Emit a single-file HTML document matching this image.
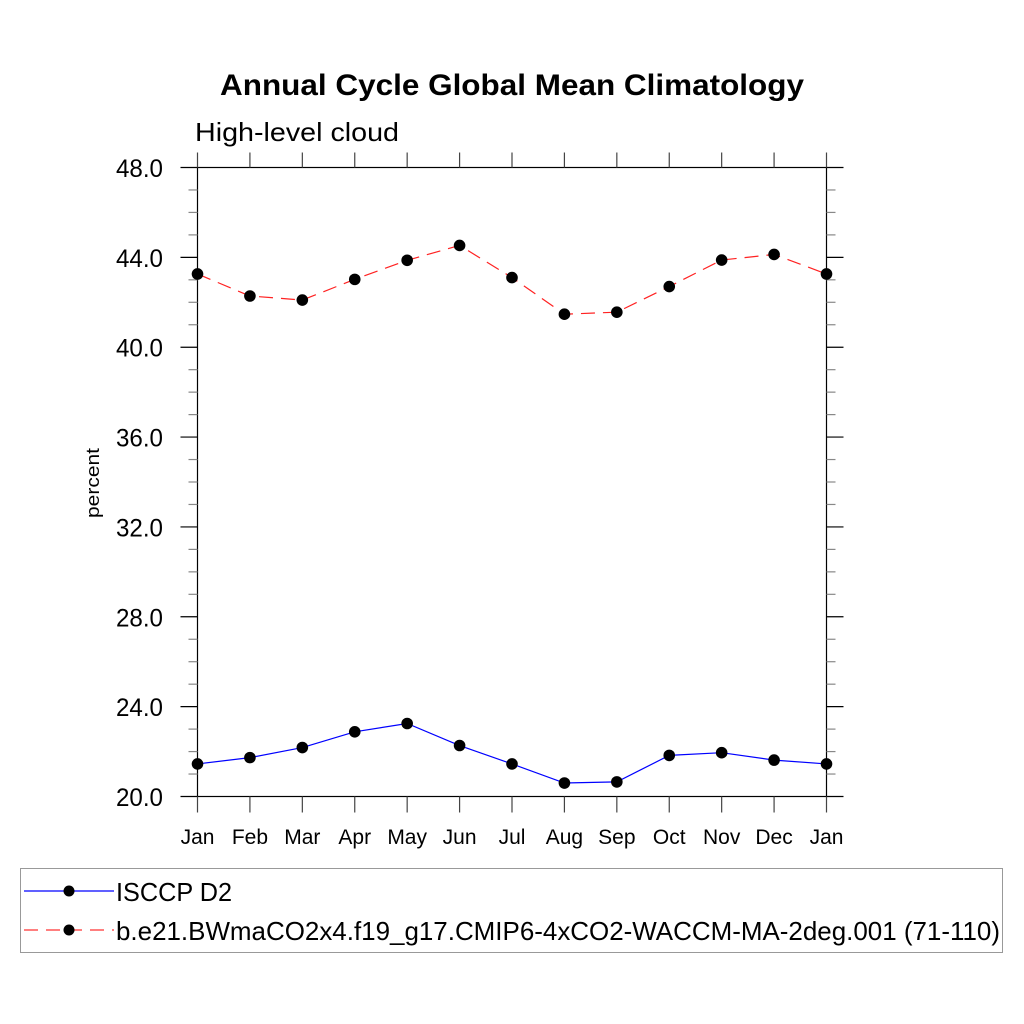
<!DOCTYPE html>
<html><head><meta charset="utf-8"><style>
html,body{margin:0;padding:0;background:#fff;}
svg{display:block;font-family:"Liberation Sans",sans-serif;}
</style></head><body>
<svg id="chart" width="1024" height="1024" viewBox="0 0 1024 1024">
<text x="220" y="95" font-size="30" font-weight="bold" textLength="584" lengthAdjust="spacingAndGlyphs">Annual Cycle Global Mean Climatology</text>
<text x="195" y="141" font-size="26" textLength="204" lengthAdjust="spacingAndGlyphs">High-level cloud</text>
<text transform="translate(99,483) rotate(-90)" text-anchor="middle" font-size="18" textLength="70" lengthAdjust="spacingAndGlyphs">percent</text>
<g id="axes"></g>
<g id="series"></g>
<g>
<rect x="20.5" y="868.5" width="982" height="84" fill="#fff" stroke="#999" stroke-width="1"/>
<g>
<line x1="24" y1="891" x2="114" y2="891" stroke="#00f" stroke-width="1.2"/>
<circle cx="69" cy="891" r="5.5" fill="#000"/>
<text x="116" y="901" font-size="26" textLength="116" lengthAdjust="spacingAndGlyphs">ISCCP D2</text>
</g>
<g>
<line x1="24" y1="930" x2="114" y2="930" stroke="#f33" stroke-width="1.2" stroke-dasharray="14,8"/>
<circle cx="69" cy="930" r="5.5" fill="#000"/>
<text x="116" y="940" font-size="26" textLength="884" lengthAdjust="spacingAndGlyphs">b.e21.BWmaCO2x4.f19_g17.CMIP6-4xCO2-WACCM-MA-2deg.001 (71-110)</text>
</g>
</g>
</svg>
<script>
const months = ["Jan","Feb","Mar","Apr","May","Jun","Jul","Aug","Sep","Oct","Nov","Dec","Jan"];
const isccpValues = [21.45,21.73,22.18,22.88,23.25,22.27,21.45,20.6,20.65,21.83,21.95,21.62,21.45];
const waccmValues = [43.26,42.28,42.1,43.02,43.87,44.53,43.1,41.47,41.56,42.7,43.88,44.13,43.26];
const yTicks = [20,24,28,32,36,40,44,48];
const yTickLabels = ["20.0","24.0","28.0","32.0","36.0","40.0","44.0","48.0"];
const NS="http://www.w3.org/2000/svg";
const X0=197.5,X1=826.5,Y0=796.5,Y1=167.5,YMIN=20,YMAX=48;
function xs(i){return X0+(X1-X0)*i/(months.length-1);}
function ys(v){return Y0-(Y0-Y1)*(v-YMIN)/(YMAX-YMIN);}
function mk(tag,attrs,parent){const e=document.createElementNS(NS,tag);for(const k in attrs)e.setAttribute(k,attrs[k]);parent.appendChild(e);return e;}
const axes=document.getElementById('axes');
const frame=mk('rect',{x:X0,y:Y1,width:X1-X0,height:Y0-Y1,fill:'none',stroke:'#000','stroke-width':1.2},axes);


for(let v=YMIN;v<=YMAX;v++){
  const major=(v%4===0);const y=ys(v);const len=major?17:9;
  const c=major?'#000':'#888';
  const t1=mk('line',{x1:X0-len,y1:y,x2:X0,y2:y,stroke:c,'stroke-width':1.2},axes);
  
  
  const t2=mk('line',{x1:X1,y1:y,x2:X1+len,y2:y,stroke:c,'stroke-width':1.2},axes);
  
  
}
yTicks.forEach((v,i)=>{
  const t=mk('text',{x:X0-81.5,y:ys(v)+9.5,'font-size':25,textLength:47,lengthAdjust:'spacingAndGlyphs'},axes);
  t.textContent=yTickLabels[i];
  
  
});
months.forEach((m,i)=>{
  const x=xs(i);
  const a=mk('line',{x1:x,y1:Y0,x2:x,y2:Y0+16,stroke:'#444','stroke-width':1.2},axes);
  
  
  const b=mk('line',{x1:x,y1:Y1-15,x2:x,y2:Y1,stroke:'#444','stroke-width':1.2},axes);
  
  
  const t=mk('text',{x:x,y:844,'text-anchor':'middle','font-size':21},axes);
  t.textContent=m;
  
  
});
const series=document.getElementById('series');
function draw(vals,color,dash,name){
  const pts=vals.map((v,i)=>xs(i)+','+ys(v)).join(' ');
  const attrs={points:pts,fill:'none',stroke:color,'stroke-width':1.2};
  if(dash)attrs['stroke-dasharray']=dash;
  const pl=mk('polyline',attrs,series);
  
  
  vals.forEach((v,i)=>{
    const c=mk('circle',{cx:xs(i),cy:ys(v),r:5.8,fill:'#000'},series);
    
    
  });
}
draw(waccmValues,'#f22','14,8','waccm');
draw(isccpValues,'#00f',null,'isccp');
</script>
</body></html>
